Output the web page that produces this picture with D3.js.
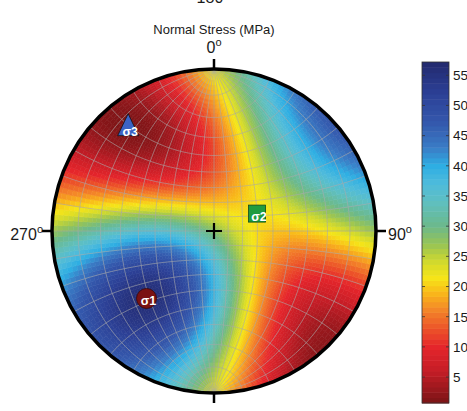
<!DOCTYPE html>
<html>
<head>
<meta charset="utf-8">
<script src="https://cdn.jsdelivr.net/npm/d3@7"></script>
<style>
  body { margin: 0; background: #fff; }
  svg { display: block; }
  text { font-family: "Liberation Sans", Arial, Helvetica, sans-serif; fill: #1a1a1a; }
</style>
</head>
<body>
<svg id="chart" width="467" height="411"></svg>
<script>
// Principal stresses: magnitude (MPa) and axis orientation (trend / plunge, degrees)
const stressNames = ["σ1", "σ2", "σ3"];
const stressMagnitudes = [56, 21, 1];
const stressTrends = [225, 68, 320];
const stressPlunges = [29, 58, 11];
const stressMarkers = ["circle", "square", "triangle"];
const stressColors = ["#7a1212", "#1f9c3f", "#3b63c4"];

// Colour bar
const colorbarTicks = [5, 10, 15, 20, 25, 30, 35, 40, 45, 50, 55];
const colorDomain = [0.7, 57.2];
const colorStopValues = [0.7, 6, 10, 13, 16, 19, 21.5, 24, 27, 30, 34, 37, 40, 43, 47, 52, 57.2];
const colorStopColors = ["#7a1416", "#c41d26", "#e5252b", "#ec5329", "#f38329", "#f9b91a", "#f6e518",
                         "#d3da2c", "#98c455", "#6cb98b", "#5fbfc0", "#4fbbdb", "#2eaee3", "#3a7dc6",
                         "#3459ad", "#2c4096", "#22296e"];

// Compass labels around the primitive
const compassAzimuths = [0, 90, 270];
const compassLabels = ["0", "90", "270"];

// Net layout
const gridStep = 10;   // great / small circle spacing (degrees)
const cellStep = 2;    // colour cell size (degrees)

const width = 467, height = 411;
const cx = 214, cy = 231, R = 162;

const svg = d3.select("#chart");

// Equal-angle (Wulff) lower-hemisphere net: a stereographic view of the
// graticule centred on the nadir, N-S axis vertical.
const projection = d3.geoStereographic()
  .scale(R)
  .translate([cx, cy])
  .rotate([0, 0])
  .clipAngle(90)
  .precision(0.2);
const geoPath = d3.geoPath(projection);

const rad = Math.PI / 180;

// axis unit vectors in (East, North, Down)
function axisVector(trend, plunge) {
  const t = trend * rad, p = plunge * rad;
  return [Math.cos(p) * Math.sin(t), Math.cos(p) * Math.cos(t), Math.sin(p)];
}
// net (longitude, latitude) -> (East, North, Down)
function netVector(lon, lat) {
  const l = lon * rad, f = lat * rad;
  return [Math.cos(f) * Math.sin(l), Math.sin(f), Math.cos(f) * Math.cos(l)];
}
function vectorToNet(v) {
  return [Math.atan2(v[0], v[2]) / rad, Math.asin(Math.max(-1, Math.min(1, v[1]))) / rad];
}

const axes = stressTrends.map((t, i) => axisVector(t, stressPlunges[i]));

// normal stress on the plane whose pole is n
function normalStress(n) {
  let s = 0;
  axes.forEach((e, i) => {
    const d = n[0] * e[0] + n[1] * e[1] + n[2] * e[2];
    s += stressMagnitudes[i] * d * d;
  });
  return s;
}

const color = d3.scaleLinear()
  .domain(colorStopValues)
  .range(colorStopColors)
  .interpolate(d3.interpolateRgb)
  .clamp(true);

// ---- colour cells ----
const cells = [];
for (let lon = -90; lon < 90; lon += cellStep) {
  for (let lat = -90; lat < 90; lat += cellStep) {
    const c = normalStress(netVector(lon + cellStep / 2, lat + cellStep / 2));
    cells.push({ lon, lat, value: c });
  }
}
const cellGroup = svg.append("g");
cellGroup.selectAll("path")
  .data(cells)
  .join("path")
  .attr("d", d => {
    const pts = [
      projection([d.lon, d.lat]),
      projection([d.lon + cellStep, d.lat]),
      projection([d.lon + cellStep, d.lat + cellStep]),
      projection([d.lon, d.lat + cellStep])
    ];
    return "M" + pts.map(p => p[0].toFixed(2) + "," + p[1].toFixed(2)).join("L") + "Z";
  })
  .attr("fill", d => color(d.value))
  .attr("stroke", d => color(d.value))
  .attr("stroke-width", 0.6);

// ---- net grid ----
const lines = [];
for (let lon = -90 + gridStep; lon < 90; lon += gridStep) {
  lines.push({ type: "LineString", coordinates: d3.range(-90, 90.5, 1).map(f => [lon, f]) });
}
for (let lat = -90 + gridStep; lat < 90; lat += gridStep) {
  lines.push({ type: "LineString", coordinates: d3.range(-90, 90.5, 1).map(l => [l, lat]) });
}
svg.append("g")
  .selectAll("path")
  .data(lines)
  .join("path")
  .attr("d", geoPath)
  .attr("fill", "none")
  .attr("stroke", "#a8a8a8")
  .attr("stroke-opacity", 0.75)
  .attr("stroke-width", 0.8);

// ---- primitive circle, ticks and centre cross ----
svg.append("circle")
  .attr("cx", cx).attr("cy", cy).attr("r", R)
  .attr("fill", "none").attr("stroke", "#000").attr("stroke-width", 3.5);

const tickAz = [0, 90, 180, 270];
svg.append("g").selectAll("line")
  .data(tickAz)
  .join("line")
  .attr("x1", a => cx + (R + 1) * Math.sin(a * rad))
  .attr("y1", a => cy - (R + 1) * Math.cos(a * rad))
  .attr("x2", a => cx + (R + 10) * Math.sin(a * rad))
  .attr("y2", a => cy - (R + 10) * Math.cos(a * rad))
  .attr("stroke", "#000").attr("stroke-width", 2.5);

svg.append("path")
  .attr("d", `M${cx - 8},${cy}H${cx + 8}M${cx},${cy - 8}V${cy + 8}`)
  .attr("stroke", "#000").attr("stroke-width", 2.2);

// ---- compass labels ----
function degreeLabel(x, y, txt, anchor) {
  const t = svg.append("text")
    .attr("x", x).attr("y", y)
    .attr("text-anchor", anchor)
    .attr("font-size", 16);
  t.append("tspan").text(txt);
  t.append("tspan").text("o").attr("font-size", 11).attr("dy", -7);
  return t;
}
compassAzimuths.forEach((a, i) => {
  if (a === 0) degreeLabel(cx, 53, compassLabels[i], "middle");
  else if (a === 90) degreeLabel(cx + R + 12, cy + 9, compassLabels[i], "start");
  else degreeLabel(cx - R - 9, cy + 9, compassLabels[i], "end");
});
// partly visible label above the frame
degreeLabel(cx - 1, 3, "180", "middle");

svg.append("text")
  .attr("x", cx).attr("y", 34)
  .attr("text-anchor", "middle")
  .attr("font-size", 13)
  .text("Normal Stress (MPa)");

// ---- principal stress markers ----
const markers = stressNames.map((name, i) => {
  const [lon, lat] = vectorToNet(axes[i]);
  const [x, y] = projection([lon, lat]);
  return { name, x, y, shape: stressMarkers[i], fill: stressColors[i] };
});
const mg = svg.append("g").selectAll("g").data(markers).join("g")
  .attr("transform", d => `translate(${d.x},${d.y})`);
mg.each(function (d) {
  const g = d3.select(this);
  if (d.shape === "circle") {
    g.append("circle").attr("r", 10).attr("fill", d.fill).attr("stroke", "#3a0808").attr("stroke-width", 0.8);
  } else if (d.shape === "square") {
    g.append("rect").attr("x", -8.5).attr("y", -8.5).attr("width", 17).attr("height", 17)
      .attr("fill", d.fill).attr("stroke", "#0d4a1c").attr("stroke-width", 0.8);
  } else {
    g.append("path").attr("d", "M0,-15L10.5,7L-10.5,7Z")
      .attr("fill", d.fill).attr("stroke", "#111").attr("stroke-width", 0.8);
  }
  g.append("text")
    .attr("x", 2).attr("y", 7)
    .attr("text-anchor", "middle")
    .attr("font-size", 12.5)
    .attr("font-weight", "bold")
    .style("fill", "#fff")
    .text(d.name);
});

// ---- colour bar ----
const cbX = 422, cbW = 27, cbTop = 62, cbBottom = 403;
const cbScale = d3.scaleLinear().domain(colorDomain).range([cbBottom, cbTop]);
const nBands = 64;
const bandEdges = d3.range(nBands + 1).map(i => colorDomain[0] + (colorDomain[1] - colorDomain[0]) * i / nBands);
svg.append("g").selectAll("rect")
  .data(d3.range(nBands))
  .join("rect")
  .attr("x", cbX)
  .attr("y", i => cbScale(bandEdges[i + 1]))
  .attr("width", cbW)
  .attr("height", i => cbScale(bandEdges[i]) - cbScale(bandEdges[i + 1]) + 0.5)
  .attr("fill", i => color((bandEdges[i] + bandEdges[i + 1]) / 2));
svg.append("rect")
  .attr("x", cbX).attr("y", cbTop).attr("width", cbW).attr("height", cbBottom - cbTop)
  .attr("fill", "none").attr("stroke", "#333").attr("stroke-width", 0.8);

const cbAxis = d3.axisRight(cbScale).tickValues(colorbarTicks).tickSize(0).tickPadding(4);
const axG = svg.append("g").attr("transform", `translate(${cbX + cbW},0)`).call(cbAxis);
axG.select(".domain").remove();
axG.selectAll("text").attr("font-size", 13.5).attr("font-family", "Liberation Sans, Arial, sans-serif").attr("fill", "#1a1a1a");
const tg = svg.append("g");
colorbarTicks.forEach(v => {
  const y = cbScale(v);
  tg.append("line").attr("x1", cbX).attr("x2", cbX + 3).attr("y1", y).attr("y2", y).attr("stroke", "#333").attr("stroke-width", 0.8);
  tg.append("line").attr("x1", cbX + cbW - 3).attr("x2", cbX + cbW).attr("y1", y).attr("y2", y).attr("stroke", "#333").attr("stroke-width", 0.8);
});
</script>
</body>
</html>
